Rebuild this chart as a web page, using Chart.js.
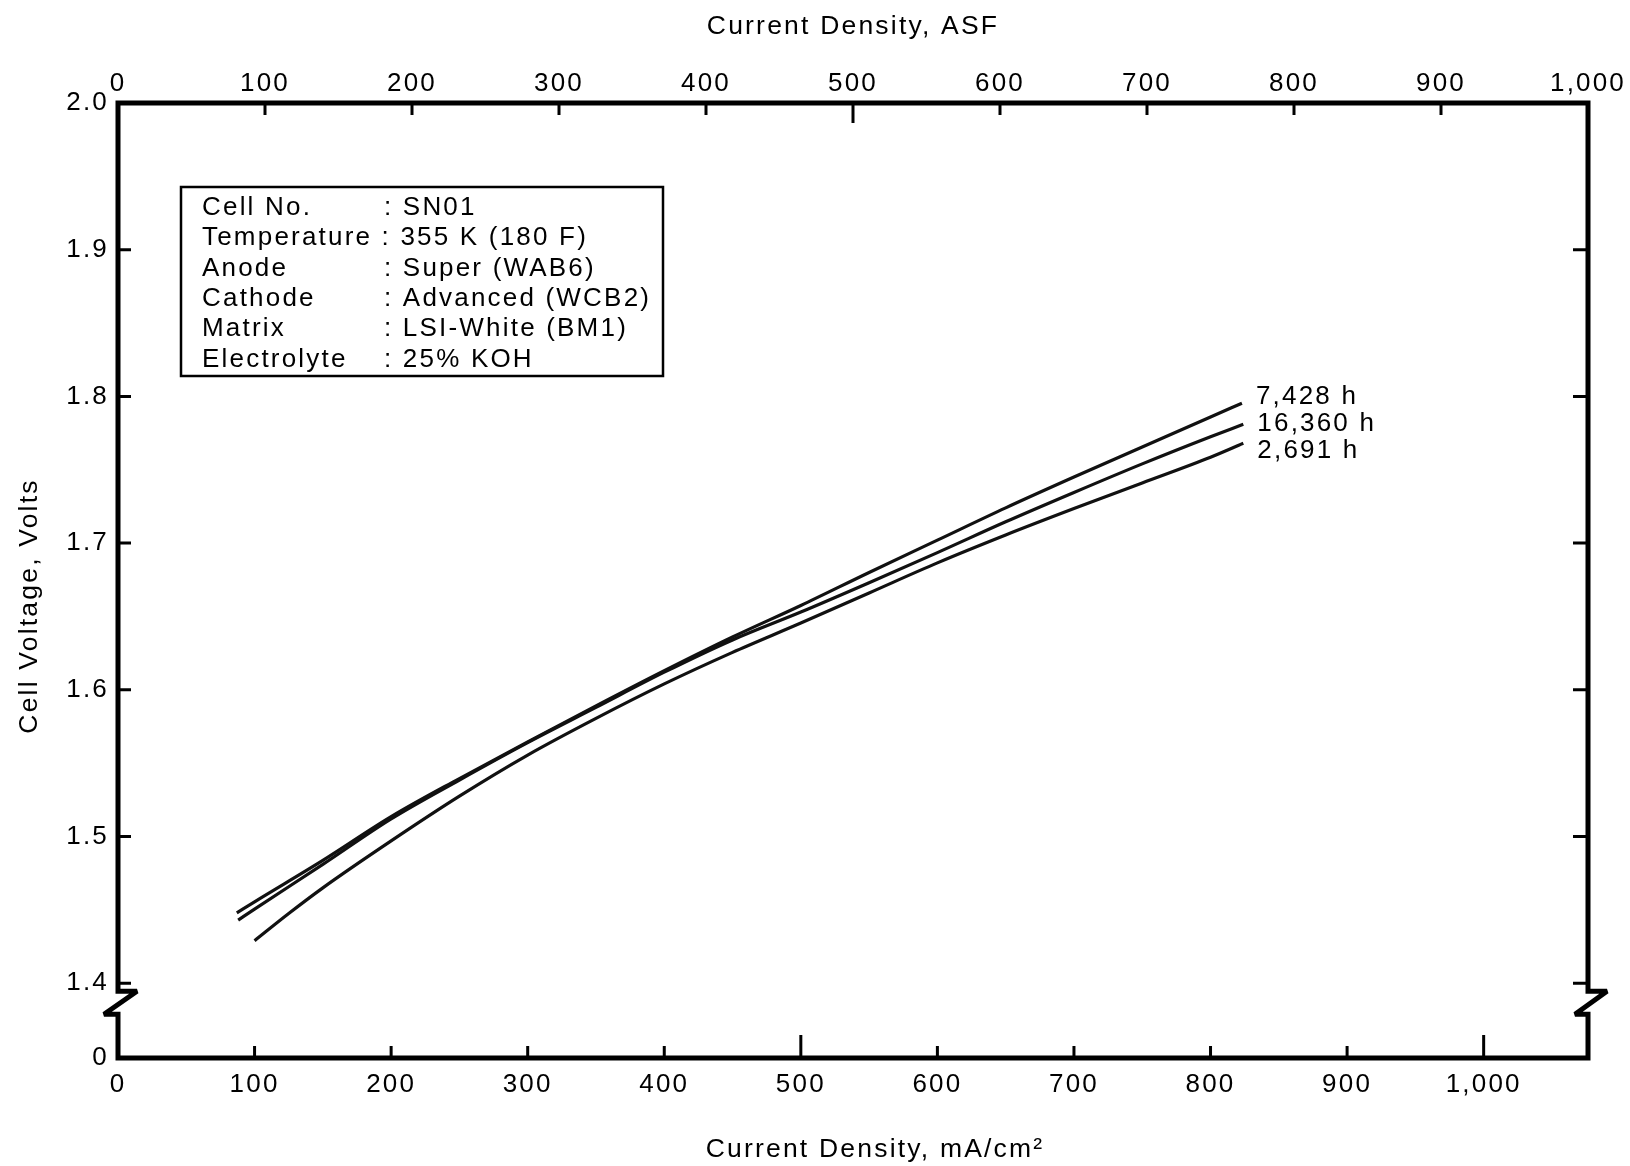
<!DOCTYPE html>
<html>
<head>
<meta charset="utf-8">
<script src="https://cdn.jsdelivr.net/npm/chart.js@4.4.1/dist/chart.umd.min.js"></script>
<style>
html, body { margin: 0; padding: 0; background: #fff; }
#wrap { width: 1630px; height: 1166px; }
</style>
</head>
<body>
<div id="wrap"><canvas id="cellChart"></canvas></div>
<script>
// 7,428 h
const xA = [87, 100, 150, 200, 250, 300, 350, 400, 450, 500, 550, 600, 650, 700, 750, 800, 823];
const vA = [1.448, 1.4555, 1.4837, 1.5135, 1.5395, 1.5645, 1.589, 1.613, 1.636, 1.6575, 1.680, 1.702, 1.724, 1.745, 1.7655, 1.786, 1.7953];
// 16,360 h
const xB = [88, 100, 150, 200, 250, 300, 350, 400, 450, 500, 550, 600, 650, 700, 750, 800, 824];
const vB = [1.443, 1.4505, 1.481, 1.512, 1.5385, 1.564, 1.588, 1.612, 1.634, 1.653, 1.673, 1.6935, 1.7145, 1.7345, 1.754, 1.7725, 1.781];
// 2,691 h
const xC = [100, 125, 150, 200, 250, 300, 350, 400, 450, 500, 550, 600, 650, 700, 750, 800, 824];
const vC = [1.429, 1.4475, 1.465, 1.497, 1.5275, 1.5555, 1.5805, 1.604, 1.6255, 1.6455, 1.666, 1.6865, 1.7055, 1.7235, 1.741, 1.7585, 1.768];

const seriesLabels = ['7,428 h', '16,360 h', '2,691 h'];

const mATicks = [0, 100, 200, 300, 400, 500, 600, 700, 800, 900, 1000];
const asfTicks = [0, 100, 200, 300, 400, 500, 600, 700, 800, 900, 1000];
const voltTicks = [1.4, 1.5, 1.6, 1.7, 1.8, 1.9, 2.0];
const ASF_TO_MA = 1.0764;
const voltFloor = 1.349; // bottom of the broken axis, shown as "0"

const cellInfo = [
    ['Cell No.', 'SN01'],
    ['Temperature', '355 K (180 F)'],
    ['Anode', 'Super (WAB6)'],
    ['Cathode', 'Advanced (WCB2)'],
    ['Matrix', 'LSI-White (BM1)'],
    ['Electrolyte', '25% KOH']
];

const FONT = "'Liberation Sans', Arial, Helvetica, sans-serif";
Chart.defaults.font.family = FONT;
Chart.defaults.color = '#000';

const toPoints = (xs, ys) => xs.map((x, i) => ({ x: x, y: ys[i] }));

const framePlugin = {
    id: 'frame',
    beforeDraw(chart) {
        const ctx = chart.ctx;
        ctx.save();
        ctx.fillStyle = '#fff';
        ctx.fillRect(0, 0, chart.width, chart.height);
        ctx.restore();
        ctx.letterSpacing = '2.2px';
    },
    afterDraw(chart) {
        const { ctx, chartArea: a, scales } = chart;
        const x = scales.x, x2 = scales.x2, y = scales.y;
        const zTop = y.getPixelForValue(1.4) + 8;
        const zBot = zTop + 23;

        ctx.save();
        ctx.strokeStyle = '#000';
        ctx.lineWidth = 5;
        ctx.lineJoin = 'miter';
        ctx.miterLimit = 2;
        ctx.beginPath();
        ctx.moveTo(a.left, zBot);
        ctx.lineTo(a.left, a.bottom);
        ctx.lineTo(a.right, a.bottom);
        ctx.lineTo(a.right, zBot);
        ctx.lineTo(a.right - 13, zBot);
        ctx.lineTo(a.right + 19, zTop);
        ctx.lineTo(a.right, zTop);
        ctx.lineTo(a.right, a.top);
        ctx.lineTo(a.left, a.top);
        ctx.lineTo(a.left, zTop);
        ctx.lineTo(a.left + 19, zTop);
        ctx.lineTo(a.left - 14, zBot);
        ctx.closePath();
        ctx.stroke();

        // inward tick marks
        ctx.lineWidth = 3;
        ctx.beginPath();
        mATicks.forEach(v => {
            if (v === 0) return;
            const px = x.getPixelForValue(v);
            ctx.moveTo(px, a.bottom);
            ctx.lineTo(px, a.bottom - (v % 500 === 0 ? 23 : 12));
        });
        asfTicks.forEach(v => {
            if (v === 0 || v === 1000) return;
            const px = x2.getPixelForValue(v);
            ctx.moveTo(px, a.top);
            ctx.lineTo(px, a.top + (v % 500 === 0 ? 20 : 12));
        });
        voltTicks.forEach(v => {
            if (v >= 2) return;
            const py = y.getPixelForValue(v);
            ctx.moveTo(a.left, py);
            ctx.lineTo(a.left + 13, py);
            ctx.moveTo(a.right, py);
            ctx.lineTo(a.right - 15, py);
        });
        ctx.stroke();

        // info box
        const bx = a.left + 63, by = a.top + 84, bw = 482, bh = 189;
        ctx.lineWidth = 2.5;
        ctx.strokeRect(bx, by, bw, bh);
        ctx.fillStyle = '#000';
        ctx.font = '26px ' + FONT;
        ctx.textBaseline = 'middle';
        ctx.textAlign = 'left';
        cellInfo.forEach(([k, val], i) => {
            const ty = by + 21 + i * 30.3;
            if (k === 'Temperature') {
                ctx.fillText(k + ' : ' + val, bx + 21, ty);
            } else {
                ctx.fillText(k, bx + 21, ty);
                ctx.fillText(': ' + val, bx + 203, ty);
            }
        });

        // curve labels at the line ends
        const ends = chart.data.datasets.map((d, i) => {
            const pts = chart.getDatasetMeta(i).data;
            const p = pts[pts.length - 1];
            return { x: p.x, y: p.y, i: i };
        });
        ends.sort((p, q) => p.y - q.y);
        const midY = ends[1].y;
        ends.forEach((p, k) => {
            ctx.fillText(seriesLabels[p.i], p.x + 14, midY + (k - 1) * 27);
        });

        // bottom axis title
        ctx.textAlign = 'center';
        ctx.font = '26.5px ' + FONT;
        ctx.fillText('Current Density, mA/cm²', 875, 1150);

        // left axis title
        ctx.translate(30, 606);
        ctx.rotate(-Math.PI / 2);
        ctx.fillText('Cell Voltage, Volts', 0, 0);
        ctx.restore();
    }
};

const lineStyle = {
    borderColor: '#111',
    borderWidth: 3.2,
    pointRadius: 0,
    fill: false,
    cubicInterpolationMode: 'monotone'
};

new Chart(document.getElementById('cellChart'), {
    type: 'line',
    data: {
        datasets: [
            Object.assign({ label: seriesLabels[0], data: toPoints(xA, vA) }, lineStyle),
            Object.assign({ label: seriesLabels[1], data: toPoints(xB, vB) }, lineStyle),
            Object.assign({ label: seriesLabels[2], data: toPoints(xC, vC) }, lineStyle)
        ]
    },
    options: {
        responsive: true,
        maintainAspectRatio: false,
        animation: false,
        layout: { padding: { left: 0, right: 42, top: 0, bottom: 0 } },
        plugins: {
            legend: { display: false },
            tooltip: { enabled: false }
        },
        scales: {
            x: {
                type: 'linear',
                position: 'bottom',
                min: 0,
                max: 1000 * ASF_TO_MA,
                afterBuildTicks: s => { s.ticks = mATicks.map(v => ({ value: v })); },
                afterFit: s => { s.height = 108; },
                grid: { display: false, drawTicks: false },
                border: { display: false },
                ticks: {
                    padding: 11, maxRotation: 0, autoSkip: false,
                    font: { size: 26 },
                    callback: v => v.toLocaleString('en-US')
                }
            },
            x2: {
                type: 'linear',
                position: 'top',
                min: 0,
                max: 1000,
                afterBuildTicks: s => { s.ticks = asfTicks.map(v => ({ value: v })); },
                afterFit: s => { s.height = 103; },
                grid: { display: false, drawTicks: false },
                border: { display: false },
                ticks: {
                    padding: 4, maxRotation: 0, autoSkip: false,
                    font: { size: 26 },
                    callback: v => v.toLocaleString('en-US')
                },
                title: {
                    display: true,
                    text: 'Current Density, ASF',
                    font: { size: 26.5 },
                    padding: { top: 11, bottom: 0 }
                }
            },
            y: {
                type: 'linear',
                position: 'left',
                min: voltFloor,
                max: 2.0,
                afterBuildTicks: s => { s.ticks = [voltFloor].concat(voltTicks).map(v => ({ value: v })); },
                afterFit: s => { s.width = 118; },
                grid: { display: false, drawTicks: false },
                border: { display: false },
                ticks: {
                    padding: 9, autoSkip: false,
                    font: { size: 26 },
                    callback: v => (v === voltFloor ? '0' : v.toFixed(1))
                }
            }
        }
    },
    plugins: [framePlugin]
});
</script>
</body>
</html>
